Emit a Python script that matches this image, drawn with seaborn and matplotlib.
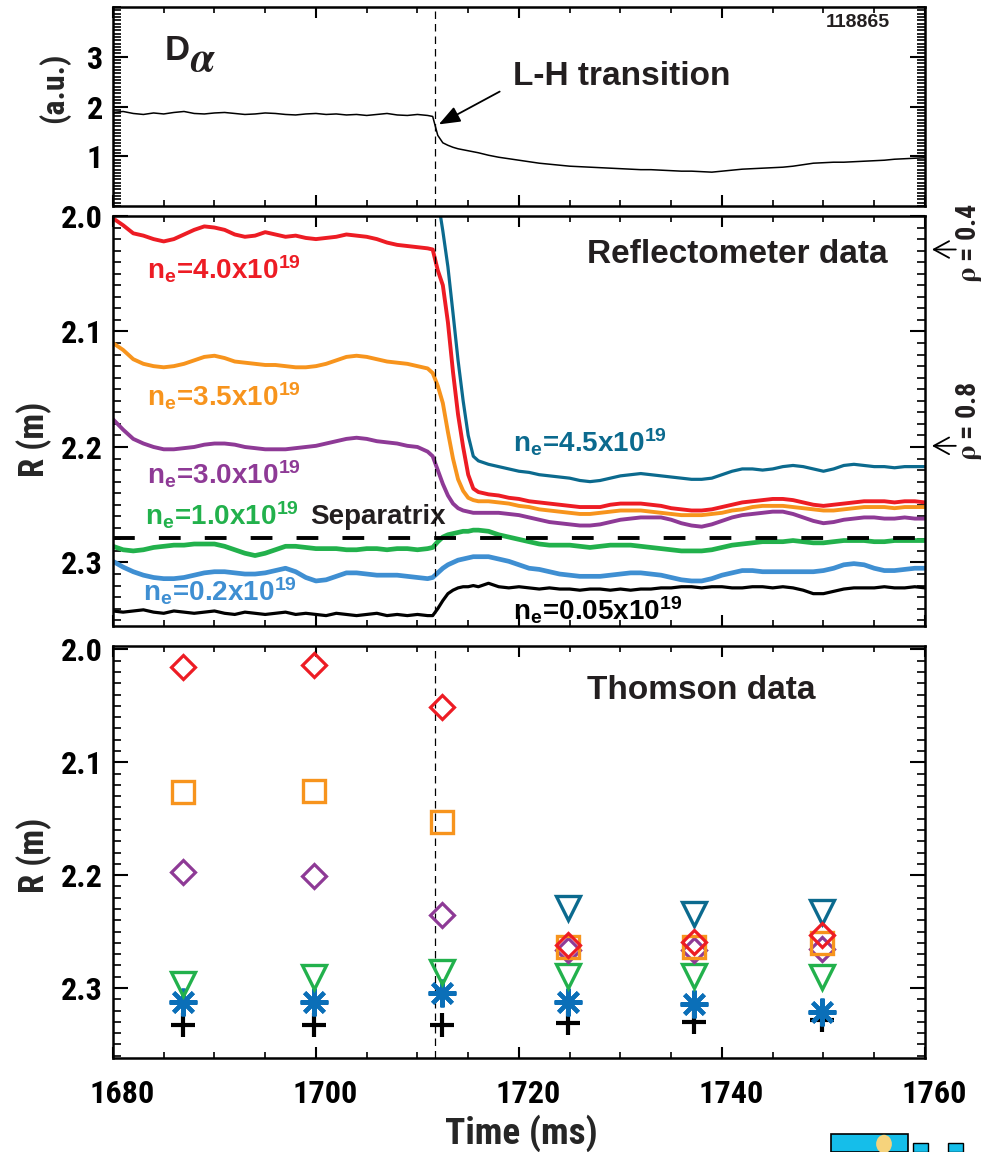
import os
import numpy as np
import matplotlib
matplotlib.use("Agg")
import matplotlib.pyplot as plt
import seaborn as sns
from matplotlib import font_manager as fm
from matplotlib.textpath import TextPath
from matplotlib.ticker import MultipleLocator, FixedLocator, FormatStrFormatter
from matplotlib.transforms import ScaledTranslation
from matplotlib.patches import Rectangle, Circle

# ---------------- data ----------------
T_PRE = list(range(1680, 1712))
T_TRANS = [1711.5, 1712, 1712.5, 1713, 1713.5, 1714, 1714.5, 1715, 1715.5]
T_POST = list(range(1716, 1761))
T_REF = T_PRE + T_TRANS + T_POST

DA_PRE = [1.88, 1.90, 1.86, 1.84, 1.87, 1.85, 1.88, 1.90, 1.86, 1.85,
          1.87, 1.88, 1.86, 1.84, 1.85, 1.87, 1.86, 1.84, 1.83, 1.85,
          1.86, 1.84, 1.85, 1.83, 1.84, 1.82, 1.84, 1.86, 1.83, 1.82,
          1.84, 1.82]
DA_TRANS = [1.80, 1.42, 1.27, 1.22, 1.18, 1.15, 1.13, 1.11, 1.09]
DA_POST = [1.07, 1.02, 0.98, 0.95, 0.92, 0.89, 0.86, 0.84, 0.82, 0.80,
           0.79, 0.78, 0.77, 0.76, 0.75, 0.74, 0.73, 0.73, 0.72, 0.71,
           0.70, 0.70, 0.69, 0.68, 0.70, 0.72, 0.74, 0.75, 0.76, 0.77,
           0.78, 0.80, 0.83, 0.86, 0.87, 0.88, 0.88, 0.89, 0.90, 0.91,
           0.92, 0.94, 0.95, 0.96, 0.97]

RED_PRE = [2.002, 2.008, 2.015, 2.017, 2.020, 2.022, 2.020, 2.016, 2.012, 2.009,
           2.010, 2.012, 2.016, 2.018, 2.017, 2.014, 2.016, 2.018, 2.017, 2.019,
           2.020, 2.019, 2.018, 2.016, 2.017, 2.018, 2.020, 2.023, 2.025, 2.026,
           2.027, 2.028]
RED_TRANS = [2.029, 2.047, 2.060, 2.092, 2.135, 2.172, 2.200, 2.224, 2.236]
RED_POST = [2.239, 2.241, 2.242, 2.244, 2.245, 2.247, 2.248, 2.249, 2.250, 2.251,
            2.252, 2.252, 2.252, 2.250, 2.249, 2.249, 2.249, 2.250, 2.251, 2.253,
            2.254, 2.255, 2.255, 2.254, 2.252, 2.250, 2.248, 2.247, 2.246, 2.245,
            2.245, 2.246, 2.248, 2.250, 2.251, 2.250, 2.249, 2.248, 2.247, 2.247,
            2.247, 2.248, 2.247, 2.247, 2.248]

ORA_PRE = [2.110, 2.116, 2.124, 2.128, 2.130, 2.131, 2.130, 2.128, 2.125, 2.122,
           2.121, 2.123, 2.126, 2.127, 2.128, 2.129, 2.129, 2.130, 2.131, 2.131,
           2.130, 2.128, 2.125, 2.122, 2.121, 2.122, 2.124, 2.126, 2.127, 2.128,
           2.130, 2.132]
ORA_TRANS = [2.136, 2.147, 2.162, 2.187, 2.210, 2.228, 2.238, 2.244, 2.246]
ORA_POST = [2.247, 2.247, 2.248, 2.249, 2.251, 2.252, 2.254, 2.255, 2.256, 2.257,
            2.258, 2.258, 2.257, 2.256, 2.255, 2.255, 2.255, 2.256, 2.257, 2.258,
            2.259, 2.259, 2.259, 2.258, 2.257, 2.255, 2.254, 2.252, 2.251, 2.251,
            2.251, 2.252, 2.253, 2.254, 2.255, 2.255, 2.254, 2.253, 2.252, 2.252,
            2.252, 2.253, 2.252, 2.252, 2.252]

PUR_PRE = [2.176, 2.185, 2.193, 2.197, 2.200, 2.202, 2.202, 2.201, 2.200, 2.198,
           2.197, 2.197, 2.198, 2.200, 2.201, 2.202, 2.202, 2.202, 2.201, 2.200,
           2.199, 2.197, 2.195, 2.193, 2.192, 2.193, 2.195, 2.196, 2.197, 2.199,
           2.200, 2.204]
PUR_TRANS = [2.208, 2.220, 2.232, 2.242, 2.249, 2.253, 2.255, 2.256, 2.257]
PUR_POST = [2.257, 2.257, 2.257, 2.258, 2.259, 2.261, 2.263, 2.265, 2.266, 2.267,
            2.268, 2.268, 2.267, 2.265, 2.263, 2.262, 2.261, 2.261, 2.261, 2.263,
            2.266, 2.268, 2.269, 2.267, 2.264, 2.261, 2.259, 2.258, 2.257, 2.256,
            2.256, 2.258, 2.261, 2.264, 2.266, 2.265, 2.263, 2.262, 2.261, 2.261,
            2.262, 2.262, 2.261, 2.262, 2.262]

TEAL_PRE = [np.nan] * 32
TEAL_TRANS = [np.nan, 1.985, 2.013, 2.044, 2.084, 2.125, 2.160, 2.190, 2.208]
TEAL_POST = [2.212, 2.215, 2.217, 2.219, 2.221, 2.222, 2.224, 2.225, 2.226, 2.227,
             2.229, 2.230, 2.229, 2.227, 2.225, 2.224, 2.223, 2.224, 2.225, 2.226,
             2.227, 2.228, 2.228, 2.227, 2.224, 2.221, 2.219, 2.219, 2.220, 2.219,
             2.217, 2.216, 2.217, 2.219, 2.221, 2.219, 2.216, 2.215, 2.216, 2.217,
             2.217, 2.218, 2.217, 2.217, 2.217]

GRN_PRE = [2.286, 2.289, 2.290, 2.289, 2.287, 2.286, 2.285, 2.285, 2.284, 2.284,
           2.284, 2.286, 2.289, 2.292, 2.294, 2.292, 2.289, 2.286, 2.286, 2.287,
           2.288, 2.288, 2.288, 2.289, 2.289, 2.288, 2.288, 2.289, 2.288, 2.288,
           2.289, 2.288]
GRN_TRANS = [2.287, 2.282, 2.278, 2.276, 2.275, 2.274, 2.273, 2.273, 2.272]
GRN_POST = [2.272, 2.273, 2.276, 2.278, 2.280, 2.282, 2.284, 2.285, 2.285, 2.285,
            2.286, 2.287, 2.286, 2.285, 2.285, 2.285, 2.286, 2.287, 2.288, 2.289,
            2.290, 2.290, 2.290, 2.289, 2.287, 2.285, 2.284, 2.283, 2.282, 2.282,
            2.282, 2.281, 2.282, 2.283, 2.283, 2.282, 2.281, 2.281, 2.281, 2.282,
            2.282, 2.281, 2.281, 2.281, 2.281]

BLU_PRE = [2.299, 2.304, 2.308, 2.311, 2.313, 2.314, 2.314, 2.313, 2.311, 2.309,
           2.308, 2.308, 2.309, 2.310, 2.310, 2.309, 2.307, 2.305, 2.308, 2.313,
           2.316, 2.315, 2.312, 2.309, 2.309, 2.310, 2.311, 2.311, 2.311, 2.312,
           2.313, 2.314]
BLU_TRANS = [2.313, 2.309, 2.305, 2.302, 2.300, 2.298, 2.297, 2.296, 2.295]
BLU_POST = [2.295, 2.295, 2.297, 2.299, 2.302, 2.305, 2.306, 2.308, 2.310, 2.311,
            2.312, 2.312, 2.312, 2.311, 2.310, 2.309, 2.309, 2.310, 2.311, 2.313,
            2.315, 2.316, 2.316, 2.314, 2.311, 2.309, 2.307, 2.307, 2.308, 2.308,
            2.308, 2.308, 2.308, 2.308, 2.307, 2.305, 2.302, 2.301, 2.302, 2.305,
            2.307, 2.307, 2.306, 2.305, 2.305]

BLK_PRE = [2.342, 2.343, 2.342, 2.341, 2.343, 2.344, 2.342, 2.343, 2.344, 2.343,
           2.342, 2.344, 2.345, 2.343, 2.344, 2.345, 2.344, 2.343, 2.345, 2.344,
           2.345, 2.346, 2.344, 2.345, 2.346, 2.345, 2.344, 2.346, 2.345, 2.346,
           2.345, 2.346]
BLK_TRANS = [2.346, 2.340, 2.333, 2.327, 2.324, 2.322, 2.321, 2.321, 2.320]
BLK_POST = [2.321, 2.318, 2.321, 2.322, 2.321, 2.322, 2.323, 2.322, 2.323, 2.323,
            2.324, 2.323, 2.323, 2.324, 2.323, 2.324, 2.323, 2.323, 2.322, 2.322,
            2.321, 2.321, 2.322, 2.321, 2.321, 2.322, 2.322, 2.321, 2.321, 2.322,
            2.321, 2.322, 2.324, 2.327, 2.327, 2.325, 2.323, 2.322, 2.322, 2.322,
            2.321, 2.322, 2.322, 2.321, 2.322]

SEPARATRIX_R = 2.279
LH_TIME = 1711.7
RHO04_R = 2.029
RHO08_R = 2.199

TH_T = [1686.9, 1699.8, 1712.4, 1724.8, 1737.2, 1749.9]
TH_RED = [2.016, 2.014, 2.051, 2.262, 2.259, 2.253]
TH_ORANGE = [2.126, 2.125, 2.153, 2.264, 2.264, 2.260]
TH_PURPLE = [2.197, 2.201, 2.235, 2.266, 2.266, 2.265]
TH_TEAL_T = [1724.8, 1737.2, 1749.9]
TH_TEAL = [2.229, 2.234, 2.233]
TH_GREEN = [2.296, 2.290, 2.286, 2.289, 2.289, 2.290]
TH_BLUE = [2.312, 2.312, 2.304, 2.312, 2.314, 2.321]
TH_BLACK = [2.333, 2.333, 2.333, 2.331, 2.330, 2.328]

RED = "#ED1C24"
ORANGE = "#F7941D"
PURPLE = "#8E3A96"
TEAL = "#0B6A8E"
GREEN = "#22B14C"
BLUE = "#3F8FD2"
BLUE_TH = "#0B6FB8"
BLACK = "#000000"
TXT = "#231F20"

# ---------------- style / fonts ----------------
sns.set_theme(style="white")
names = {f.name for f in fm.fontManager.ttflist}
WIDE = "Liberation Sans" if "Liberation Sans" in names else "DejaVu Sans"
plt.rcParams["font.family"] = [WIDE, "DejaVu Sans"]
plt.rcParams["font.weight"] = "bold"
plt.rcParams["mathtext.fontset"] = "stix"
WF = [WIDE, "DejaVu Sans"]

COND_FILES = ["LiberationSansNarrow-Bold.ttf", "RobotoCondensed-Bold.ttf",
              "NotoSans-CondensedBold.ttf", "OpenSans-CondensedBold.ttf",
              "OpenSans_Condensed-Bold.ttf", "DejaVuSansCondensed-Bold.ttf"]
paths = {os.path.basename(f.fname): f.fname for f in fm.fontManager.ttflist}
COND_PATH = next((paths[n] for n in COND_FILES if n in paths), None)


def base_prop(size):
    if COND_PATH:
        return fm.FontProperties(fname=COND_PATH, size=size)
    return fm.FontProperties(family=WF, weight="bold", size=size)


_w = TextPath((0, 0), "1680", prop=base_prop(24)).get_extents().width  # points
_scale = (60 * 0.72) / _w
SCALE = _scale ** 0.7 if _scale < 1 else min(_scale, 1.1)


def cprop(size):
    return base_prop(size * SCALE)


fig = plt.figure(figsize=(9.84, 11.52), dpi=100)
L, W = 0.1148, 0.8252
ax1 = fig.add_axes([L, 0.8212, W, 0.1727])
ax2 = fig.add_axes([L, 0.4566, W, 0.3559])
ax3 = fig.add_axes([L, 0.0816, W, 0.3576])


def fmt_axes(ax, majors, minor_step, ylim, fmt, xlabels=False):
    ax.set_xlim(1680, 1760)
    ax.set_ylim(*ylim)
    ax.xaxis.set_major_locator(MultipleLocator(20))
    ax.xaxis.set_minor_locator(MultipleLocator(5))
    ax.yaxis.set_major_locator(FixedLocator(majors))
    ax.yaxis.set_minor_locator(MultipleLocator(minor_step))
    ax.yaxis.set_major_formatter(FormatStrFormatter(fmt))
    ax.tick_params(which="both", direction="in", top=True, bottom=True,
                   left=True, right=True, colors="black")
    ax.tick_params(axis="y", which="major", length=11, width=1.5, pad=7)
    ax.tick_params(axis="y", which="minor", length=5.5, width=1.2)
    ax.tick_params(axis="x", which="major", length=8, width=1.5, pad=15)
    ax.tick_params(axis="x", which="minor", length=4, width=1.2)
    ax.tick_params(axis="x", labelbottom=xlabels)
    for sp in ax.spines.values():
        sp.set_visible(True)
        sp.set_color("black")
        sp.set_linewidth(1.8)
    ax.set_xlabel("")
    ax.set_ylabel("")
    ax.grid(False)
    for lab in ax.get_xticklabels() + ax.get_yticklabels():
        lab.set_fontproperties(cprop(24))


# ---------------- top: D-alpha ----------------
sns.lineplot(x=T_REF, y=DA_PRE + DA_TRANS + DA_POST, ax=ax1, color="black",
             lw=1.1, estimator=None, sort=False)
ax1.axvline(LH_TIME, color="black", lw=0.9, ls=(0, (6, 4)), zorder=1)
fmt_axes(ax1, [1, 2, 3], 1 / 15, (0, 4), "%d")
ax1.set_ylabel("(a.u.)", fontproperties=cprop(24))
ax1.yaxis.set_label_coords(-0.053, 0.593)
ax1.text(1685.1, 2.94, "D", fontsize=25, family=WF, ha="left", va="baseline", color=TXT)
ax1.text(1687.6, 2.72, r"$\alpha$", fontsize=30, ha="left", va="baseline", color=TXT)
ax1.text(0.957, 0.92, "118865", transform=ax1.transAxes, fontsize=14,
         family=WF, ha="right", va="center", color=TXT)
ax1.text(1719.4, 2.6, "L-H transition", fontsize=24, family=WF,
         ha="left", va="center", color=TXT)
ax1.annotate("", xy=(1712.1, 1.64), xytext=(1718.1, 2.3),
             arrowprops=dict(arrowstyle="-|>,head_length=0.65,head_width=0.25",
                             mutation_scale=20, lw=1.3, color="black",
                             shrinkA=0, shrinkB=0))

# ---------------- middle: reflectometer ----------------
series = [
    (BLK_PRE + BLK_TRANS + BLK_POST, BLACK, 2.3),
    (BLU_PRE + BLU_TRANS + BLU_POST, BLUE, 3.4),
    (GRN_PRE + GRN_TRANS + GRN_POST, GREEN, 3.4),
    (PUR_PRE + PUR_TRANS + PUR_POST, PURPLE, 2.8),
    (ORA_PRE + ORA_TRANS + ORA_POST, ORANGE, 2.8),
    (RED_PRE + RED_TRANS + RED_POST, RED, 2.8),
    (TEAL_PRE + TEAL_TRANS + TEAL_POST, TEAL, 2.3),
]
for vals, col, lw in series:
    sns.lineplot(x=T_REF, y=vals, ax=ax2, color=col, lw=lw,
                 estimator=None, sort=False)
ax2.axhline(SEPARATRIX_R, color="black", lw=2.8, ls=(0, (5.6, 6.2)), zorder=5)
ax2.axvline(LH_TIME, color="black", lw=0.9, ls=(0, (6, 4)), zorder=6)
fmt_axes(ax2, [2.0, 2.1, 2.2, 2.3], 0.01, (2.355, 2.0), "%.1f")
ax2.set_ylabel("R (m)", fontproperties=cprop(26))
ax2.yaxis.set_label_coords(-0.075, 0.454)

lab = r"n$_\mathregular{e}$=%sx10$^\mathregular{19}$"
ax2.text(1683.4, 2.046, lab % "4.0", color=RED, fontsize=20, family=WF, ha="left", va="center")
ax2.text(1683.4, 2.156, lab % "3.5", color=ORANGE, fontsize=20, family=WF, ha="left", va="center")
ax2.text(1683.4, 2.224, lab % "3.0", color=PURPLE, fontsize=20, family=WF, ha="left", va="center")
ax2.text(1719.4, 2.196, lab % "4.5", color=TEAL, fontsize=20, family=WF, ha="left", va="center")
ax2.text(1683.2, 2.259, lab % "1.0", color=GREEN, fontsize=20, family=WF, ha="left", va="center")
ax2.text(1683.0, 2.325, lab % "0.2", color=BLUE, fontsize=20, family=WF, ha="left", va="center")
ax2.text(1719.4, 2.341, lab % "0.05", color=BLACK, fontsize=20, family=WF, ha="left", va="center")
ax2.text(1699.4, 2.261, "Separatrix", color=TXT, fontsize=20, family=WF, ha="left", va="center")
ax2.text(1726.7, 2.0336, "Reflectometer data", color=TXT, fontsize=24, family=WF,
         ha="left", va="center")

ytr = ax2.get_yaxis_transform()
for r_arrow, r_text, s in [(RHO04_R, 2.023, r"$\mathrm{\rho}$ = 0.4"),
                           (RHO08_R, 2.178, r"$\mathrm{\rho}$ = 0.8")]:
    ax2.annotate("", xy=(1.0086, r_arrow), xycoords=ytr, xytext=(1.038, r_arrow),
                 textcoords=ytr, annotation_clip=False,
                 arrowprops=dict(arrowstyle="->,head_length=0.55,head_width=0.3",
                                 mutation_scale=20, lw=1.3, color="black",
                                 shrinkA=0, shrinkB=0))
    ax2.text(1.054, r_text, s, transform=ytr, rotation=90, ha="center", va="center",
             fontproperties=cprop(21), color=TXT, clip_on=False)

# ---------------- bottom: Thomson ----------------
markers = [
    (TH_T, TH_BLACK, "+", BLACK, 17, 3.0),
    (TH_T, TH_BLUE, (8, 2, 0), BLUE_TH, 20, 3.0),
    (TH_T, TH_GREEN, "v", GREEN, 17, 2.4),
    (TH_TEAL_T, TH_TEAL, "v", TEAL, 17, 2.4),
    (TH_T, TH_PURPLE, "D", PURPLE, 12.5, 2.3),
    (TH_T, TH_ORANGE, "s", ORANGE, 16, 2.4),
    (TH_T, TH_RED, "D", RED, 12.5, 2.3),
]
for tx, ty, mk, col, ms, mew in markers:
    sns.lineplot(x=tx, y=ty, ax=ax3, marker=mk, markersize=ms, color=col,
                 markerfacecolor="none", markeredgecolor=col, markeredgewidth=mew,
                 linestyle="", estimator=None, sort=False)
ax3.axvline(LH_TIME, color="black", lw=0.9, ls=(0, (6, 4)), zorder=0)
fmt_axes(ax3, [2.0, 2.1, 2.2, 2.3], 0.01, (2.362, 1.997), "%.1f", xlabels=True)
ax3.set_ylabel("R (m)", fontproperties=cprop(26))
ax3.yaxis.set_label_coords(-0.075, 0.493)
ax3.set_xlabel("Time (ms)", fontproperties=cprop(28))
ax3.xaxis.set_label_coords(0.5025, -0.136)
ax3.text(1726.7, 2.036, "Thomson data", color=TXT, fontsize=24, family=WF,
         ha="left", va="center")
shift = ScaledTranslation(0.09, 0, fig.dpi_scale_trans)
for t in ax3.get_xticklabels():
    t.set_transform(t.get_transform() + shift)

# logo fragment at the bottom right
fig.patches.append(Rectangle((831 / 984, 0), 77 / 984, 18 / 1152, transform=fig.transFigure,
                             facecolor="#15BEEA", edgecolor="black", lw=1.2))
fig.patches.append(Circle((884 / 984, 8 / 1152), 0.008, transform=fig.transFigure,
                          facecolor="#F6D37C", edgecolor="none"))
fig.patches.append(Rectangle((913 / 984, 0), 15 / 984, 9 / 1152, transform=fig.transFigure,
                             facecolor="#15BEEA", edgecolor="black", lw=1.0))
fig.patches.append(Rectangle((948 / 984, 0), 15 / 984, 9 / 1152, transform=fig.transFigure,
                             facecolor="#15BEEA", edgecolor="black", lw=1.0))

fig.savefig("out.png", dpi=100)
